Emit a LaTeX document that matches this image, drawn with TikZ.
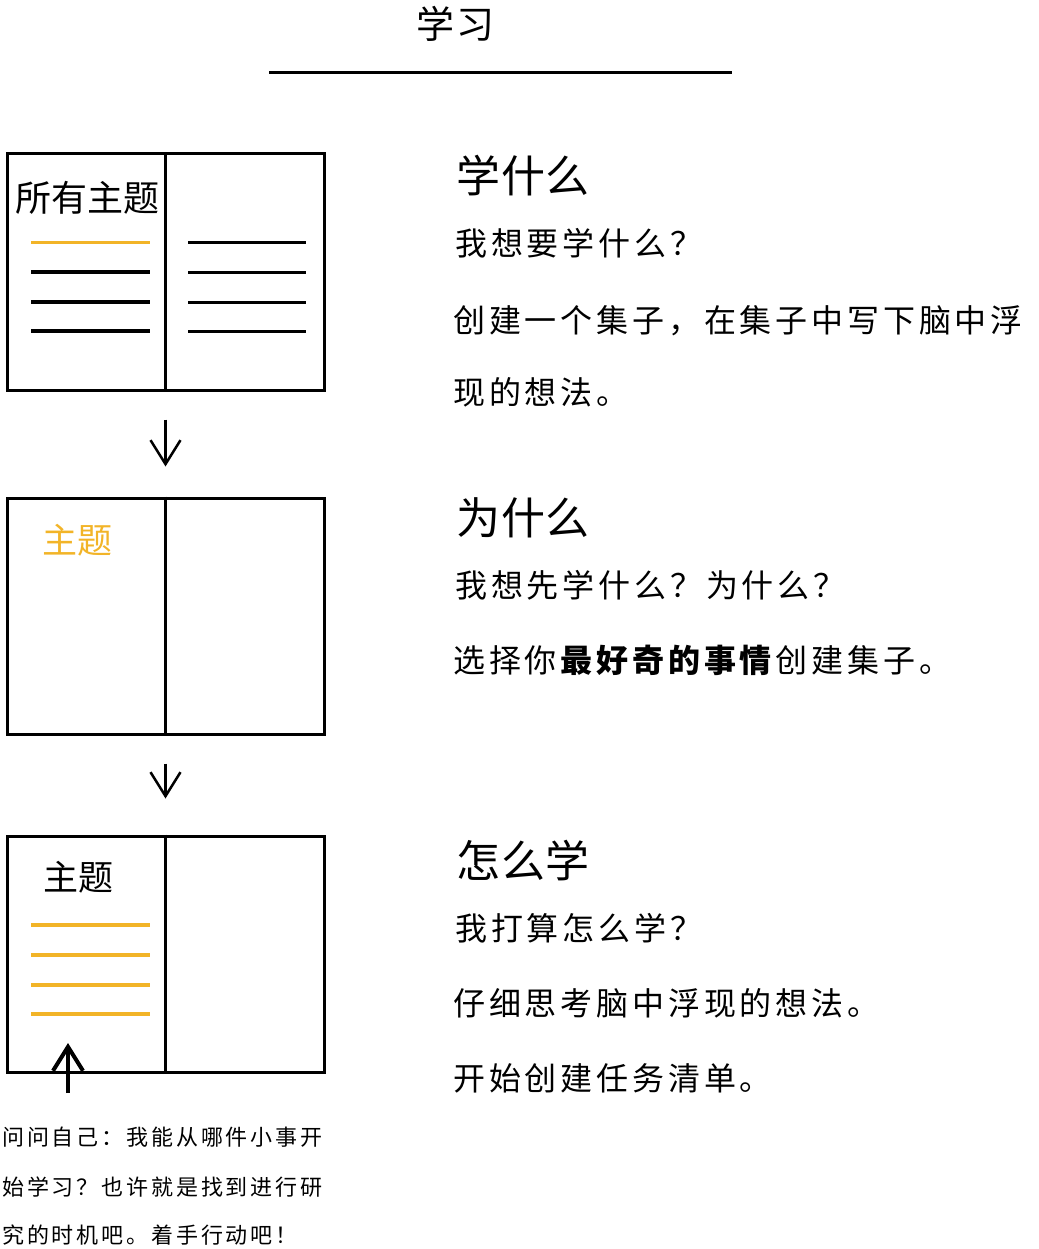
\documentclass[tikz,border=0pt]{standalone}
\usepackage{fontspec}
\setmainfont{Noto Sans CJK SC}
\newfontfamily\bodyfont{Noto Sans CJK SC}[LetterSpace=12]
\newfontfamily\headfont{Noto Sans CJK SC}[LetterSpace=2]
\newfontfamily\titlefont{Noto Sans CJK SC}[LetterSpace=6]
\newfontfamily\notefont{Noto Sans CJK SC}[LetterSpace=13]
\usetikzlibrary{arrows.meta}
\definecolor{markyellow}{RGB}{242,180,40}
\begin{document}
\begin{tikzpicture}[x=1pt, y=-1pt,
    pagebox/.style={draw, line width=3pt, minimum width=317pt, minimum height=236pt, inner sep=0pt},
    headtext/.style={anchor=base west, inner sep=0pt, font=\headfont\fontsize{44}{44}\selectfont},
    bodytext/.style={anchor=base west, inner sep=0pt, font=\bodyfont\fontsize{32}{32}\selectfont},
    notetext/.style={anchor=base west, inner sep=0pt, font=\notefont\fontsize{22}{22}\selectfont},
    boxlabel/.style={anchor=base west, inner sep=0pt, font=\fontsize{35}{35}\selectfont},
    downarrow/.style={line width=2.5pt, -{Straight Barb[length=24pt, width=30pt]}},
    uparrow/.style={line width=4pt, -{Straight Barb[length=24pt, width=30pt]}}]
    \useasboundingbox (0,0) rectangle (1038,1249);

    % Titulo
    \node[anchor=base west, inner sep=0pt, font=\titlefont\fontsize{38}{38}\selectfont] (title) at (416,39) {学习};
    \draw[line width=3pt] (269,73) -- (732,73);

    % Cajas (libro abierto)
    \node[pagebox] (all) at (165.5,272) {};
    \node[pagebox] (pick) at (165.5,616) {};
    \node[pagebox] (plan) at (165.5,954) {};
    \foreach \b in {all,pick,plan}
        \draw[line width=3pt] (\b.north) -- (\b.south);

    % Flechas entre cajas
    \draw[downarrow, shorten <=28pt, shorten >=30pt] (all) -- (pick);
    \draw[downarrow, shorten <=28pt, shorten >=36pt] (pick) -- (plan);

    % Caja 1: todos los temas
    \node[boxlabel, font=\fontsize{36}{36}\selectfont] (alllabel) at (15,212) {所有主题};
    \draw[markyellow, line width=3pt] (31,243) -- (150,243);
    \foreach \y in {272,302,331}
        \draw[line width=3.5pt] (31,\y) -- (150,\y);
    \foreach \y in {243,272,302,331}
        \draw[line width=3pt] (188,\y) -- (306,\y);

    % Caja 2: tema elegido
    \node[boxlabel, text=markyellow] (picklabel) at (42,553) {主题};

    % Caja 3: tema con tareas
    \node[boxlabel] (planlabel) at (43,890) {主题};
    \foreach \y in {925,955,985,1014}
        \draw[markyellow, line width=3.5pt] (31,\y) -- (150,\y);

    % Nota inferior
    \coordinate (askfoot) at (68,1093);
    \coordinate (asktip) at (68,1043);
    \draw[uparrow] (askfoot) -- (asktip);
    \node[notetext] (note1) at (2,1145) {问问自己：我能从哪件小事开};
    \node[notetext] (note2) at (2,1195) {始学习？也许就是找到进行研};
    \node[notetext] (note3) at (2,1243) {究的时机吧。着手行动吧！};

    % Columna derecha
    \node[headtext] (what) at (456,193) {学什么};
    \node[bodytext] (what1) at (455,255) {我想要学什么？};
    \node[bodytext] (what2) at (453,332) {创建一个集子，在集子中写下脑中浮};
    \node[bodytext] (what3) at (453,404) {现的想法。};

    \node[headtext] (why) at (456,534) {为什么};
    \node[bodytext] (why1) at (455,597) {我想先学什么？为什么？};
    \node[bodytext] (why2) at (453,672) {选择你\textbf{最好奇的事情}创建集子。};

    \node[headtext] (how) at (456,877) {怎么学};
    \node[bodytext] (how1) at (455,940) {我打算怎么学？};
    \node[bodytext] (how2) at (453,1015) {仔细思考脑中浮现的想法。};
    \node[bodytext] (how3) at (453,1090) {开始创建任务清单。};
\end{tikzpicture}
\end{document}
